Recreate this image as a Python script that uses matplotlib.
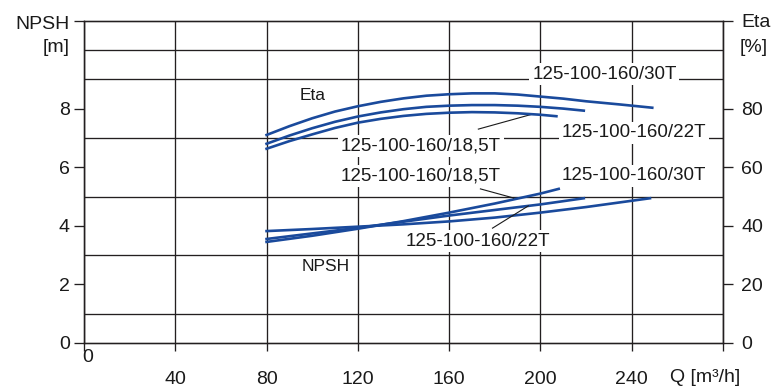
import matplotlib.pyplot as plt

plt.rcParams['font.family'] = ['Liberation Sans', 'DejaVu Sans']

# Eta [%] over Q [m3/h], right axis
q_eta_30 = [80, 90, 100, 110, 120, 130, 140, 150, 160, 170, 180, 190, 200, 210, 220, 235, 249]
eta_30 = [71.0, 74.0, 76.7, 79.0, 80.8, 82.3, 83.5, 84.4, 84.9, 85.2, 85.2, 84.8, 84.1, 83.4, 82.5, 81.4, 80.3]
q_eta_22 = [80, 90, 100, 110, 120, 130, 140, 150, 160, 170, 180, 190, 200, 210, 219]
eta_22 = [68.0, 70.8, 73.3, 75.5, 77.3, 78.7, 79.8, 80.6, 81.0, 81.2, 81.2, 81.0, 80.6, 80.0, 79.3]
q_eta_185 = [80, 90, 100, 110, 120, 130, 140, 150, 160, 170, 180, 190, 200, 207]
eta_185 = [66.3, 68.9, 71.2, 73.4, 75.2, 76.5, 77.5, 78.2, 78.6, 78.8, 78.7, 78.4, 77.9, 77.4]

# NPSH [m] over Q [m3/h], left axis
q_npsh_30 = [80, 100, 120, 140, 160, 180, 200, 220, 248]
npsh_30 = [3.82, 3.89, 3.97, 4.05, 4.15, 4.28, 4.45, 4.64, 4.94]
q_npsh_22 = [80, 100, 120, 140, 160, 180, 200, 219]
npsh_22 = [3.55, 3.74, 3.93, 4.14, 4.35, 4.54, 4.73, 4.94]
q_npsh_185 = [80, 100, 120, 140, 160, 180, 200, 208]
npsh_185 = [3.45, 3.66, 3.90, 4.16, 4.45, 4.76, 5.10, 5.26]

x_ticks = [0, 40, 80, 120, 160, 200, 240, 280]
x_labels = ['', '40', '80', '120', '160', '200', '240', '']
npsh_ticks = [0, 2, 4, 6, 8, 11]
npsh_labels = ['0', '2', '4', '6', '8', '']
eta_ticks = [0, 20, 40, 60, 80, 110]
eta_labels = ['0', '20', '40', '60', '80', 'Eta']

# curve labels: (text, Q, NPSH-axis position)
curve_labels = [
    ('125-100-160/30T', 228, 9.18),
    ('125-100-160/22T', 241, 7.17),
    ('125-100-160/18,5T', 147.6, 6.72),
    ('125-100-160/18,5T', 147.6, 5.70),
    ('125-100-160/30T', 241, 5.70),
    ('125-100-160/22T', 172.4, 3.48),
]
# leader lines (Q, NPSH-axis units)
leaders = [
    ([172.8, 196.9], [7.30, 7.82]),
    ([173.7, 188.2], [5.26, 4.95]),
    ([179.0, 194.7], [3.92, 4.68]),
]

BLUE = '#1a4a9c'
INK = '#231f20'

fig = plt.figure(figsize=(7.77, 3.87), dpi=100)
ax = fig.add_axes([0.1081, 0.1137, 0.8224, 0.8328])
ax2 = ax.twinx()

ax.set_xlim(0, 280)
ax.set_ylim(0, 11)
ax2.set_ylim(0, 110)

for a in (ax, ax2):
    for s in a.spines.values():
        s.set_color(INK)
        s.set_linewidth(0.95)

ax.set_xticks(x_ticks)
ax.set_xticklabels(x_labels, fontsize=14)
ax.set_yticks(npsh_ticks)
ax.set_yticklabels(npsh_labels, fontsize=14)
ax.set_yticks(range(0, 12), minor=True)
ax2.set_yticks(eta_ticks)
ax2.set_yticklabels(eta_labels, fontsize=14)

ax.tick_params(axis='x', length=6, width=0.95, color=INK, pad=14, labelcolor='#1a1a1a')
ax.tick_params(axis='y', which='major', length=7.2, width=0.95, color=INK, pad=3, labelcolor='#1a1a1a')
ax.tick_params(axis='y', which='minor', length=0)
ax2.tick_params(axis='y', length=7.2, width=0.95, color=INK, pad=6, labelcolor='#1a1a1a')

ax.grid(True, axis='x', which='major', color=INK, lw=0.95)
ax.grid(True, axis='y', which='minor', color=INK, lw=0.95)

ax.plot(q_npsh_30, npsh_30, color=BLUE, lw=1.9, zorder=4)
ax.plot(q_npsh_22, npsh_22, color=BLUE, lw=1.9, zorder=4)
ax.plot(q_npsh_185, npsh_185, color=BLUE, lw=1.9, zorder=4)
ax2.plot(q_eta_30, eta_30, color=BLUE, lw=1.9)
ax2.plot(q_eta_22, eta_22, color=BLUE, lw=1.9)
ax2.plot(q_eta_185, eta_185, color=BLUE, lw=1.9)

for txt, qx, yv in curve_labels:
    ax.text(qx, yv, txt, fontsize=13.5, ha='center', va='center', color='#1a1a1a', zorder=3,
            bbox=dict(boxstyle='square,pad=0.15', fc='white', ec='none'))
for lx, ly in leaders:
    ax.plot(lx, ly, color='#1a1a1a', lw=0.8, zorder=5)

ax.text(100.2, 8.46, 'Eta', fontsize=12.5, ha='center', va='center', color='#1a1a1a', zorder=3)
ax.text(105.7, 2.61, 'NPSH', fontsize=12.5, ha='center', va='center', color='#1a1a1a', zorder=3)

# axis titles
ax.annotate('NPSH', xy=(0, 11), xytext=(-10, -2.5), textcoords='offset points',
            ha='right', va='center', fontsize=14, color='#1a1a1a', annotation_clip=False)
ax.annotate('[m]', xy=(0, 11), xytext=(-10, -19.5), textcoords='offset points',
            ha='right', va='center', fontsize=14, color='#1a1a1a', annotation_clip=False)
ax.annotate('[%]', xy=(280, 11), xytext=(12, -19.5), textcoords='offset points',
            ha='left', va='center', fontsize=14, color='#1a1a1a', annotation_clip=False)
ax.annotate('0', xy=(0, 0), xytext=(2.5, -10.5), textcoords='offset points',
            ha='center', va='center', fontsize=14, color='#1a1a1a', annotation_clip=False)
ax.annotate('Q [m³/h]', xy=(272, 0), xytext=(0, -25), textcoords='offset points',
            ha='center', va='center', fontsize=14, color='#1a1a1a', annotation_clip=False)

fig.savefig('out.png', dpi=100)
